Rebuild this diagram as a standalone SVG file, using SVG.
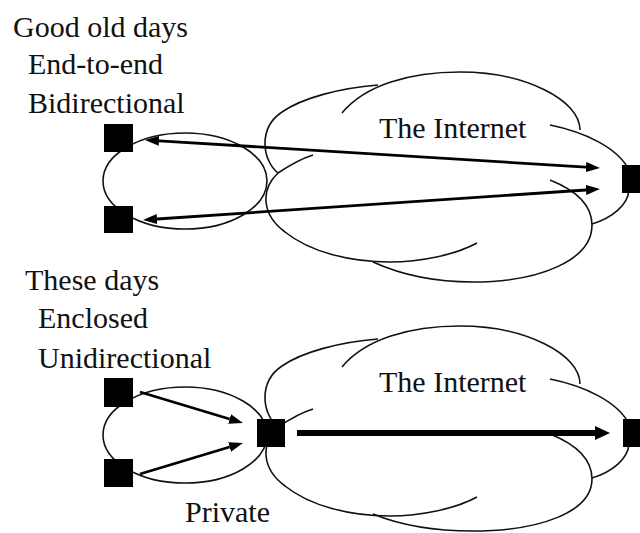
<svg xmlns="http://www.w3.org/2000/svg" width="640" height="533" viewBox="0 0 640 533">
<style>
  .t { font-family: 'Liberation Serif', 'Times New Roman', serif; font-size: 30px; fill: #111; }
  .outline { fill: none; stroke: #111; stroke-width: 1.6; }
  .node { fill: #000; }
  .conn { fill: none; stroke: #000; stroke-width: 2.8; }
  .thick { fill: none; stroke: #000; stroke-width: 6; }
</style>
<defs>
  <marker id="ah" viewBox="0 0 14 10" markerUnits="userSpaceOnUse" markerWidth="14" markerHeight="10" refX="0" refY="5" orient="auto-start-reverse">
    <path d="M0,0 L14,5 L0,10 z" fill="#000"/>
  </marker>
  <marker id="ahBig" viewBox="0 0 15 14" markerUnits="userSpaceOnUse" markerWidth="15" markerHeight="14" refX="0" refY="7" orient="auto">
    <path d="M0,0 L15,7 L0,14 z" fill="#000"/>
  </marker>
</defs>
<rect width="640" height="533" fill="#fff"/>

<g id="labels-top">
  <text class="t" x="13" y="37">Good old days</text>
  <text class="t" x="28" y="74">End-to-end</text>
  <text class="t" x="28" y="113">Bidirectional</text>
</g>

<g id="private-top">
  <ellipse class="outline" cx="185" cy="181" rx="82" ry="48"/>
</g>

<g id="internet-top">
  <path class="outline" d="M278,173 C262,160 258,128 282,112 C302,98 340,88 378,85"/>
  <path class="outline" d="M342,113 C365,85 410,72 460,72 C525,72 580,100 580,130"/>
  <path class="outline" d="M550,125 C585,132 618,148 629,170 L629,190 C628,205 612,218 592,224"/>
  <path class="outline" d="M550,180 C575,190 592,205 592,225 C592,260 540,282 473,282 C430,282 395,272 373,262"/>
  <path class="outline" d="M278,173 C260,190 262,215 285,232 C310,252 350,262 390,262 C420,262 455,255 477,243"/>
  <path class="outline" d="M278,173 C290,165 300,159 313,155"/>
  <text class="t" x="379" y="138">The Internet</text>
</g>

<g id="labels-bottom">
  <text class="t" x="25" y="290">These days</text>
  <text class="t" x="38" y="328">Enclosed</text>
  <text class="t" x="38" y="368">Unidirectional</text>
</g>

<g id="private-bottom">
  <ellipse class="outline" cx="185" cy="435" rx="82" ry="48"/>
  <text class="t" x="185" y="522">Private</text>
</g>

<g id="internet-bottom">
  <path class="outline" d="M278,427 C262,414 258,382 282,366 C302,352 340,342 378,339"/>
  <path class="outline" d="M342,367 C365,339 410,326 460,326 C525,326 580,354 580,384"/>
  <path class="outline" d="M550,379 C585,386 618,402 629,424 L629,444 C628,459 612,472 592,478"/>
  <path class="outline" d="M550,434 C575,444 592,459 592,479 C592,512 540,531 473,531 C430,531 395,523 373,514"/>
  <path class="outline" d="M278,427 C260,444 262,469 285,486 C310,506 350,516 390,516 C420,516 455,509 477,497"/>
  <path class="outline" d="M278,427 C290,419 300,413 313,409"/>
  <text class="t" x="379" y="392">The Internet</text>
</g>

<g id="connectors">
  <line class="conn" x1="159" y1="140.8" x2="586" y2="167.1" marker-start="url(#ah)" marker-end="url(#ah)"/>
  <line class="conn" x1="157" y1="219" x2="586" y2="190" marker-start="url(#ah)" marker-end="url(#ah)"/>
  <line class="conn" x1="140" y1="392" x2="229.6" y2="419" marker-end="url(#ah)"/>
  <line class="conn" x1="140" y1="474" x2="229.6" y2="447" marker-end="url(#ah)"/>
  <line class="thick" x1="297" y1="433" x2="595" y2="433" marker-end="url(#ahBig)"/>
</g>

<g id="host-a1"><rect class="node" x="104" y="124" width="29" height="28"/></g>
<g id="host-a2"><rect class="node" x="104" y="206" width="29" height="27"/></g>
<g id="host-a3"><rect class="node" x="622" y="165" width="28" height="28"/></g>
<g id="host-b1"><rect class="node" x="104" y="378" width="29" height="29"/></g>
<g id="host-b2"><rect class="node" x="104" y="459" width="29" height="28"/></g>
<g id="nat-b"><rect class="node" x="257" y="419" width="28" height="28"/></g>
<g id="host-b3"><rect class="node" x="623" y="419" width="28" height="28"/></g>
</svg>
